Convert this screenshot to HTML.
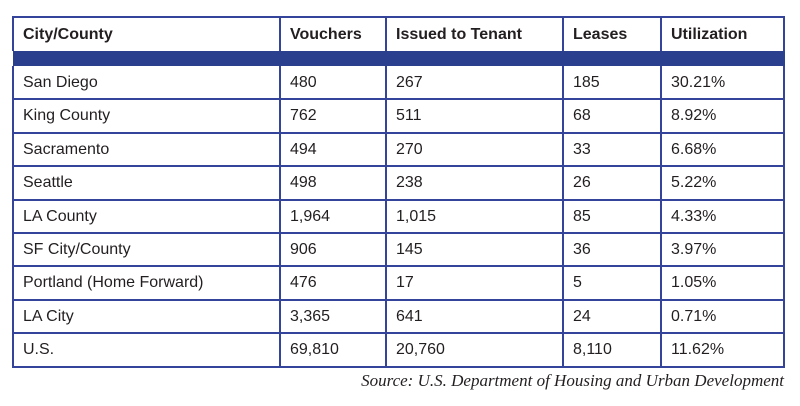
<!DOCTYPE html>
<html><head><meta charset="utf-8"><style>
body{margin:0;background:#fff;width:800px;height:406px;position:relative;overflow:hidden;font-family:"Liberation Sans",sans-serif;color:#231f20}
.c{position:absolute;font-size:16px;line-height:16px;white-space:nowrap}
.h{font-weight:bold}
.v{position:absolute;background:#34449a;width:2px}
.hl{position:absolute;background:#34449a;height:2px;left:13px;width:772px}
.src{position:absolute;right:16px;top:371px;font-family:"Liberation Serif",serif;font-style:italic;font-size:17px}
</style></head><body>
<div id="t"></div>
<div class="src">Source: U.S. Department of Housing and Urban Development</div>
<script>
const headers=["City/County","Vouchers","Issued to Tenant","Leases","Utilization"];
const cities=["San Diego","King County","Sacramento","Seattle","LA County","SF City/County","Portland (Home Forward)","LA City","U.S."];
const vouchers=["480","762","494","498","1,964","906","476","3,365","69,810"];
const issued=["267","511","270","238","1,015","145","17","641","20,760"];
const leases=["185","68","33","26","85","36","5","24","8,110"];
const util=["30.21%","8.92%","6.68%","5.22%","4.33%","3.97%","1.05%","0.71%","11.62%"];
const colX=[13,280,386,563,661,784];
const tbl=document.getElementById('t');
function add(cls,style,txt,name){const d=document.createElement('div');d.className=cls;d.style.cssText=style;if(txt!==undefined)d.textContent=txt;


tbl.appendChild(d);return d;}
const tableTop=17,hdrB=51,bandB=66,rowH=33.4;
add('','position:absolute;left:13px;top:'+hdrB+'px;width:772px;height:'+(bandB-hdrB)+'px;background:#2b3f8f',undefined,'header-band');
headers.forEach((h,i)=>add('c h','left:'+(colX[i]+10)+'px;top:'+(tableTop+10)+'px',h,'header-'+h.toLowerCase().replace(/[^a-z]+/g,'-')));
add('hl','top:'+(tableTop-1)+'px',undefined,'table-top-border');
const cols=[cities,vouchers,issued,leases,util];
for(let r=0;r<cities.length;r++){
  const y=bandB+r*rowH;
  cols.forEach((c,i)=>add('c','left:'+(colX[i]+10)+'px;top:'+(y+9)+'px',c[r],'cell-r'+r+'-c'+i));
  add('hl','top:'+(y+rowH-1)+'px',undefined,'row-border-'+r);
}
const bottom=bandB+cities.length*rowH;
colX.forEach((x,i)=>{
  const y0=(i==0||i==5)?tableTop-1:tableTop;
  add('v','left:'+(x-1)+'px;top:'+y0+'px;height:'+(hdrB-y0)+'px',undefined,'col-border-h-'+i);
  add('v','left:'+(x-1)+'px;top:'+bandB+'px;height:'+(bottom-bandB+1)+'px',undefined,'col-border-'+i);
});
</script>
</body></html>
